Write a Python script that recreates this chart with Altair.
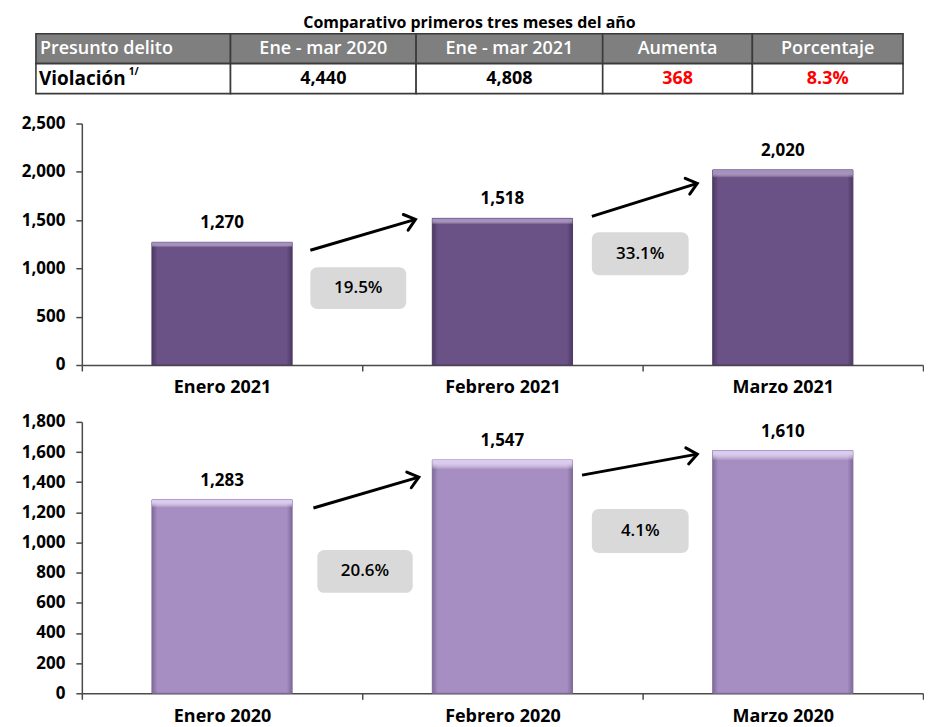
import altair as alt
import pandas as pd

# ---------------- data ----------------
table_title = "Comparativo primeros tres meses del año"
table_headers = ["Presunto delito", "Ene - mar 2020", "Ene - mar 2021", "Aumenta", "Porcentaje"]
table_values = ["Violación", "4,440", "4,808", "368", "8.3%"]
table_value_colors = ["black", "black", "black", "#ff0000", "#ff0000"]
footnote = "1/"

months_2021 = ["Enero 2021", "Febrero 2021", "Marzo 2021"]
values_2021 = [1270, 1518, 2020]
pct_2021 = ["19.5%", "33.1%"]

months_2020 = ["Enero 2020", "Febrero 2020", "Marzo 2020"]
values_2020 = [1283, 1547, 1610]
pct_2020 = ["20.6%", "4.1%"]

# ---------------- layout (annotation geometry in data units) ----------------
FONT = "Open Sans"
W = 843
X0 = 82                                   # page x of the plot area's left edge
COL_EDGES = [36, 231, 417, 604, 754, 905]  # table column edges (page px)

arrows_2021 = [(0.815, 1188, 1.19, 1508, 343), (1.819, 1539, 2.195, 1880, 344)]
boxes_2021 = [(0.815, 1.157, 579, 1012), (1.819, 2.164, 930, 1374)]
arrows_2020 = [(0.826, 1229, 1.202, 1434, 344), (1.784, 1447, 2.195, 1586, 350)]
boxes_2020 = [(0.84, 1.18, 666, 951), (1.819, 2.164, 931, 1222)]

# ---------------- table ----------------
cells = []
for i in range(5):
    cells.append(dict(x0=COL_EDGES[i], x1=COL_EDGES[i + 1], r0=0, r1=1, fill="#7f7f7f"))
    cells.append(dict(x0=COL_EDGES[i], x1=COL_EDGES[i + 1], r0=1, r1=2, fill="white"))
cells_df = pd.DataFrame(cells)

tx = alt.Scale(domain=[X0, X0 + W], nice=False, zero=False)
ty = alt.Scale(domain=[0, 2], reverse=True, nice=False, zero=False)

rects = alt.Chart(cells_df).mark_rect(stroke="#3a3a3a", strokeWidth=1.6).encode(
    x=alt.X("x0:Q", scale=tx, axis=None), x2="x1:Q",
    y=alt.Y("r0:Q", scale=ty, axis=None), y2="r1:Q",
    fill=alt.Fill("fill:N", scale=None),
)

hdr_df = pd.DataFrame({
    "t": table_headers[1:],
    "x": [(COL_EDGES[i] + COL_EDGES[i + 1]) / 2 for i in range(1, 5)],
    "y": [0.5] * 4,
})
hdr_text = alt.Chart(hdr_df).mark_text(
    font=FONT, fontSize=18, fontWeight=600, color="white", baseline="middle"
).encode(x=alt.X("x:Q", scale=tx, axis=None), y=alt.Y("y:Q", scale=ty, axis=None), text="t:N")

hdr0_df = pd.DataFrame({"t": [table_headers[0]], "x": [COL_EDGES[0] + 4], "y": [0.5]})
hdr0_text = alt.Chart(hdr0_df).mark_text(
    font=FONT, fontSize=18, fontWeight=600, color="white", baseline="middle", align="left"
).encode(x=alt.X("x:Q", scale=tx, axis=None), y=alt.Y("y:Q", scale=ty, axis=None), text="t:N")

val_df = pd.DataFrame({
    "t": table_values[1:],
    "c": table_value_colors[1:],
    "x": [(COL_EDGES[i] + COL_EDGES[i + 1]) / 2 for i in range(1, 5)],
    "y": [1.5] * 4,
})
val_text = alt.Chart(val_df).mark_text(
    font=FONT, fontSize=18, fontWeight="bold", baseline="middle"
).encode(x=alt.X("x:Q", scale=tx, axis=None), y=alt.Y("y:Q", scale=ty, axis=None),
         text="t:N", color=alt.Color("c:N", scale=None))

val0_df = pd.DataFrame({"t": [table_values[0]], "x": [COL_EDGES[0] + 3], "y": [1.5]})
val0_text = alt.Chart(val0_df).mark_text(
    font=FONT, fontSize=19, fontWeight="bold", baseline="middle", align="left", color="black"
).encode(x=alt.X("x:Q", scale=tx, axis=None), y=alt.Y("y:Q", scale=ty, axis=None), text="t:N")

fn_df = pd.DataFrame({"t": [footnote], "x": [COL_EDGES[0] + 93], "y": [1.27]})
fn_text = alt.Chart(fn_df).mark_text(
    font=FONT, fontSize=10, fontWeight="bold", baseline="middle", align="left", color="black"
).encode(x=alt.X("x:Q", scale=tx, axis=None), y=alt.Y("y:Q", scale=ty, axis=None), text="t:N")

ttl_df = pd.DataFrame({"t": [table_title], "x": [(COL_EDGES[0] + COL_EDGES[-1]) / 2], "y": [-0.37]})
ttl_text = alt.Chart(ttl_df).mark_text(
    font=FONT, fontSize=16, fontWeight="bold", baseline="middle", color="black"
).encode(x=alt.X("x:Q", scale=tx, axis=None), y=alt.Y("y:Q", scale=ty, axis=None), text="t:N")

table = alt.layer(rects, hdr0_text, hdr_text, val0_text, val_text, fn_text, ttl_text).properties(
    width=W, height=60
)


# ---------------- bar panels ----------------
def panel(months, values, pcts, arrows, boxes, main, dark, light, ymax, ystep, height):
    df = pd.DataFrame({"mes": months, "v": values})
    ysc = alt.Scale(domain=[0, ymax], nice=False, zero=True)
    yax = alt.Axis(values=list(range(0, ymax + 1, ystep)), format=",.0f",
                   grid=False, labelPadding=11, minExtent=69, maxExtent=69)
    xsc_q = alt.Scale(domain=[0, 3], nice=False, zero=False)
    x = alt.X("mes:N", sort=months, title=None,
              scale=alt.Scale(paddingInner=0, paddingOuter=0),
              axis=alt.Axis(labelAngle=0, tickBand="extent", labelPadding=8,
                            labelFontSize=18))

    def yq(f):
        return alt.Y(f, scale=ysc, title=None, axis=yax)

    base = alt.Chart(df).encode(x=x, y=yq("v:Q"))
    side = alt.Gradient(gradient="linear", x1=0, x2=1, y1=0, y2=0, stops=[
        alt.GradientStop(color=dark, offset=0),
        alt.GradientStop(color=main, offset=0.04),
        alt.GradientStop(color=main, offset=0.96),
        alt.GradientStop(color=dark, offset=1),
    ])
    top = alt.Gradient(gradient="linear", x1=0, x2=0, y1=0, y2=1, stops=[
        alt.GradientStop(color=light, offset=0),
        alt.GradientStop(color=light, offset=0.012),
        alt.GradientStop(color="rgba(255,255,255,0)", offset=0.04),
        alt.GradientStop(color="rgba(255,255,255,0)", offset=1),
    ])
    bars = base.mark_bar(width=alt.RelativeBandSize(0.5), fill=side, stroke=dark, strokeWidth=1)
    bevel = base.mark_bar(width=alt.RelativeBandSize(0.5), fill=top)
    labels = base.mark_text(font=FONT, fontSize=17, fontWeight="bold", dy=-19,
                            baseline="middle", color="black").encode(
        text=alt.Text("v:Q", format=","))
    main_layer = alt.layer(bars, bevel, labels)

    arr_df = pd.DataFrame(arrows, columns=["xa", "ya", "xb", "yb", "ang"])
    shaft = alt.Chart(arr_df).mark_rule(strokeWidth=3, color="black").encode(
        x=alt.X("xa:Q", scale=xsc_q, axis=None), x2="xb:Q",
        y=yq("ya:Q"), y2="yb:Q")
    head = alt.Chart(arr_df).mark_point(
        shape="M -1 -0.8 L 0 0 L -1 0.8", filled=False, strokeWidth=3, size=420,
        color="black", opacity=1, strokeCap="round", strokeJoin="miter"
    ).encode(x=alt.X("xb:Q", scale=xsc_q, axis=None),
             y=yq("yb:Q"),
             angle=alt.Angle("ang:Q", scale=None))

    box_df = pd.DataFrame(boxes, columns=["x0", "x1", "y0", "y1"])
    box_df["t"] = pcts
    box_df["xc"] = (box_df["x0"] + box_df["x1"]) / 2
    box_df["yc"] = (box_df["y0"] + box_df["y1"]) / 2
    box = alt.Chart(box_df).mark_rect(cornerRadius=7, fill="#d9d9d9").encode(
        x=alt.X("x0:Q", scale=xsc_q, axis=None), x2="x1:Q",
        y=yq("y0:Q"), y2="y1:Q")
    box_t = alt.Chart(box_df).mark_text(font=FONT, fontSize=17, fontWeight=600,
                                        baseline="middle", color="black").encode(
        x=alt.X("xc:Q", scale=xsc_q, axis=None),
        y=yq("yc:Q"), text="t:N")
    ann_layer = alt.layer(shaft, head, box, box_t)

    return alt.layer(main_layer, ann_layer).resolve_scale(
        x="independent").properties(width=W, height=height)


top_panel = panel(months_2021, values_2021, pct_2021, arrows_2021, boxes_2021,
                  "#6a5186", "#4d3a63", "#a48fc0", 2500, 500, 242)
bot_panel = panel(months_2020, values_2020, pct_2020, arrows_2020, boxes_2020,
                  "#a68ec2", "#7f6a99", "#dccbf0", 1800, 200, 272)

charts = alt.vconcat(top_panel, bot_panel, spacing=57, bounds="flush")

chart = alt.vconcat(table, charts, spacing=30, bounds="flush").properties(
    padding={"left": 5, "top": 5, "right": 0, "bottom": 0}
).configure_view(stroke=None).configure_axis(
    domainColor="#4a4a4a", domainWidth=1.5, tickColor="#4a4a4a", tickWidth=1.5,
    tickSize=6, labelFont=FONT, labelFontSize=17, labelFontWeight="bold",
    labelColor="black",
)

chart.save("out.html", embed_options={"renderer": "svg", "actions": False})
